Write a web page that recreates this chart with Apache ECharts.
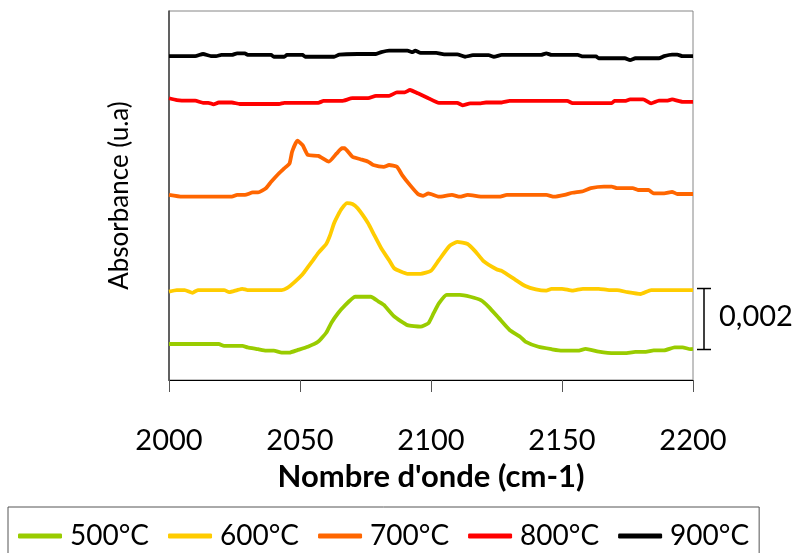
<!DOCTYPE html>
<html>
<head>
<meta charset="utf-8">
<script src="https://cdn.jsdelivr.net/npm/echarts@6/dist/echarts.min.js"></script>
<style>html,body{margin:0;padding:0;background:#fff}#c{width:798px;height:553px}</style>
</head>
<body>
<div id="c"></div>
<script>
// Absorbance values in units of 1e-3 (u.a.), curves offset vertically as in the figure
const seriesNames = ['500°C', '600°C', '700°C', '800°C', '900°C'];
const xTicks = [2000, 2050, 2100, 2150, 2200];
const scaleBarFrom = 1, scaleBarTo = 3, scaleBarLabel = '0,002';

const wn500 = [2000,2019,2021,2028,2030,2034,2037,2040,2043,2046,2049,2053,2057,2060,2062,2064.5,2067,2071,2074,2077,2080,2082,2086,2091,2096,2099,2101,2103,2106,2111,2115,2119,2122,2126,2130,2134,2136,2141,2146,2150,2156,2159,2164,2170,2174,2178,2182,2185,2189,2193,2196,2199,2200];
const abs500 = [1.18,1.18,1.12,1.12,1.07,1.01,0.96,0.96,0.90,0.90,0.98,1.09,1.26,1.55,1.88,2.19,2.43,2.73,2.73,2.73,2.57,2.46,2.08,1.80,1.75,1.86,2.19,2.51,2.79,2.79,2.73,2.62,2.40,2.02,1.64,1.42,1.26,1.09,1.01,0.96,0.96,1.02,0.93,0.88,0.88,0.92,0.92,0.97,0.97,1.07,1.07,1.01,1.02];

const wn600 = [2000,2003,2006,2009,2011,2021,2023,2026,2028,2030,2043,2045,2048,2051,2053,2055,2057,2060,2061.5,2063,2064.5,2066,2068,2070,2072,2076,2078,2081,2084,2086,2091,2096,2100,2103,2107,2110,2114,2117,2120,2125,2127,2132,2136,2140,2144,2146,2150,2154,2158,2164,2168,2171,2175,2180,2184,2200];
const abs600 = [2.90,2.95,2.95,2.86,2.95,2.95,2.88,2.95,2.99,2.95,2.95,3.01,3.22,3.47,3.70,3.93,4.17,4.46,4.75,5.14,5.41,5.63,5.80,5.77,5.63,5.14,4.81,4.32,3.93,3.66,3.48,3.48,3.58,3.93,4.39,4.53,4.46,4.21,3.90,3.63,3.58,3.30,3.08,2.97,2.93,2.99,2.99,2.93,2.99,2.99,2.95,2.95,2.88,2.82,2.95,2.95];

const wn700 = [2000,2005,2024,2026,2029,2032,2034,2037,2039,2042,2044,2046,2047,2049,2051,2053,2057,2061,2064,2066,2067,2070,2073,2076,2078,2082,2084,2087,2089,2092,2095,2097,2099,2103,2108,2111,2114,2120,2126,2129,2144,2147,2151,2154,2158,2161,2166,2169,2171,2177,2179,2183,2185,2189,2192,2194,2200];
const abs700 = [6.07,6.01,6.01,6.07,6.07,6.15,6.15,6.29,6.50,6.78,6.94,7.10,7.49,7.85,7.70,7.38,7.35,7.16,7.43,7.60,7.60,7.32,7.24,7.16,7.05,6.99,7.05,6.99,6.72,6.39,6.10,6.04,6.12,6.01,6.07,6.01,6.07,6.01,6.01,6.07,6.07,6.01,6.07,6.14,6.19,6.29,6.34,6.34,6.29,6.29,6.23,6.23,6.12,6.12,6.17,6.10,6.10];

const wn800 = [2000,2003,2007,2010,2013,2015,2017,2019,2024,2027,2042,2044,2057,2059,2066,2070,2076,2079,2084,2087,2090,2092,2095,2099,2103,2110,2112,2115,2119,2121,2127,2130,2152,2154,2169,2170,2174,2176,2181,2184,2187,2190,2192,2196,2200];
const abs800 = [9.24,9.18,9.16,9.16,9.09,9.09,9.04,9.10,9.10,9.05,9.05,9.09,9.09,9.15,9.15,9.24,9.24,9.32,9.32,9.43,9.43,9.51,9.40,9.24,9.09,9.09,9.01,9.07,9.07,9.10,9.10,9.15,9.15,9.08,9.08,9.15,9.15,9.20,9.20,9.07,9.16,9.16,9.20,9.12,9.12];

const wn900 = [2000,2010,2013,2016,2018,2020,2024,2026,2029,2030,2039,2040,2044,2045,2051,2052,2063,2065,2072,2079,2081,2084,2091,2093,2094,2096,2102,2105,2110,2113,2116,2122,2124,2127,2142,2144,2146,2156,2158,2163,2164,2174,2176,2178,2187,2189,2192,2194,2196,2200];
const abs900 = [10.62,10.62,10.69,10.62,10.62,10.66,10.66,10.71,10.71,10.66,10.66,10.60,10.60,10.66,10.66,10.60,10.60,10.67,10.69,10.69,10.75,10.80,10.80,10.75,10.80,10.73,10.73,10.68,10.68,10.60,10.65,10.65,10.60,10.66,10.66,10.71,10.66,10.66,10.61,10.61,10.55,10.55,10.49,10.55,10.55,10.62,10.67,10.67,10.62,10.62];

const colors = ['#99cc00', '#ffcc00', '#ff6600', '#ff0000', '#000000'];
const xs = [wn500, wn600, wn700, wn800, wn900];
const ys = [abs500, abs600, abs700, abs800, abs900];

const FONT = 'Lato';
function zip(a, b) { const n = Math.min(a.length, b.length); const r = []; for (let i = 0; i < n; i++) r.push([a[i], b[i]]); return r; }

const chart = echarts.init(document.getElementById('c'), null, { renderer: 'canvas' });
const option = {
  animation: false,
  backgroundColor: '#fff',
  grid: { left: 169, right: 105, top: 11, bottom: 173, show: true, borderColor: '#868686', borderWidth: 1, containLabel: false },
  xAxis: {
    type: 'value', min: xTicks[0], max: xTicks[xTicks.length - 1], interval: 50,
    name: "Nombre d'onde (cm-1)", nameLocation: 'middle', nameGap: 81,
    nameTextStyle: { fontFamily: FONT, fontSize: 31, fontWeight: 'bold', color: '#000' },
    axisLine: { show: true, lineStyle: { color: '#000', width: 1 } },
    axisTick: { show: true, inside: false, length: 12, lineStyle: { color: '#555' } },
    axisLabel: { margin: 46, fontFamily: FONT, fontSize: 29, color: '#000', formatter: v => String(v) },
    splitLine: { show: false }
  },
  yAxis: {
    type: 'value', min: 0, max: 12.1,
    name: 'Absorbance (u.a)', nameLocation: 'middle', nameGap: 36, nameRotate: 90,
    nameTextStyle: { fontFamily: FONT, fontSize: 26, color: '#000' },
    axisLine: { show: true, lineStyle: { color: '#404040', width: 1.5 } },
    axisTick: { show: false }, axisLabel: { show: false }, splitLine: { show: false }
  },
  legend: {
    left: 8, top: 507, orient: 'horizontal',
    padding: [15, 10, 10, 10], itemGap: 19, itemWidth: 44, itemHeight: 5,
    borderColor: '#555', borderWidth: 1,
    icon: 'roundRect',
    textStyle: { fontFamily: FONT, fontSize: 28, color: '#000', padding: [0, 0, 0, 3] },
    data: seriesNames
  },
  series: seriesNames.map((n, i) => ({
    name: n, type: 'line', data: zip(xs[i], ys[i]), showSymbol: false, smooth: 0.15,
    lineStyle: { color: colors[i], width: 3.8 }, itemStyle: { color: colors[i] }
  }))
};
chart.setOption(option);

// Scale bar positioned through the axes
const pTop = chart.convertToPixel({ gridIndex: 0 }, [xTicks[xTicks.length - 1], scaleBarTo]);
const pBot = chart.convertToPixel({ gridIndex: 0 }, [xTicks[xTicks.length - 1], scaleBarFrom]);
const bx = pTop[0] + 11;
chart.setOption({
  graphic: [
    { type: 'line', shape: { x1: bx, y1: pTop[1], x2: bx, y2: pBot[1] }, style: { stroke: '#000', lineWidth: 1.5 } },
    { type: 'line', shape: { x1: bx - 7, y1: pTop[1], x2: bx + 7, y2: pTop[1] }, style: { stroke: '#000', lineWidth: 1.5 } },
    { type: 'line', shape: { x1: bx - 7, y1: pBot[1], x2: bx + 7, y2: pBot[1] }, style: { stroke: '#000', lineWidth: 1.5 } },
    { type: 'text', x: bx + 15, y: (pTop[1] + pBot[1]) / 2 - 2, style: { text: scaleBarLabel, fontFamily: FONT, fontSize: 29, fill: '#000', align: 'left', verticalAlign: 'middle' } }
  ]
});
</script>
</body>
</html>
